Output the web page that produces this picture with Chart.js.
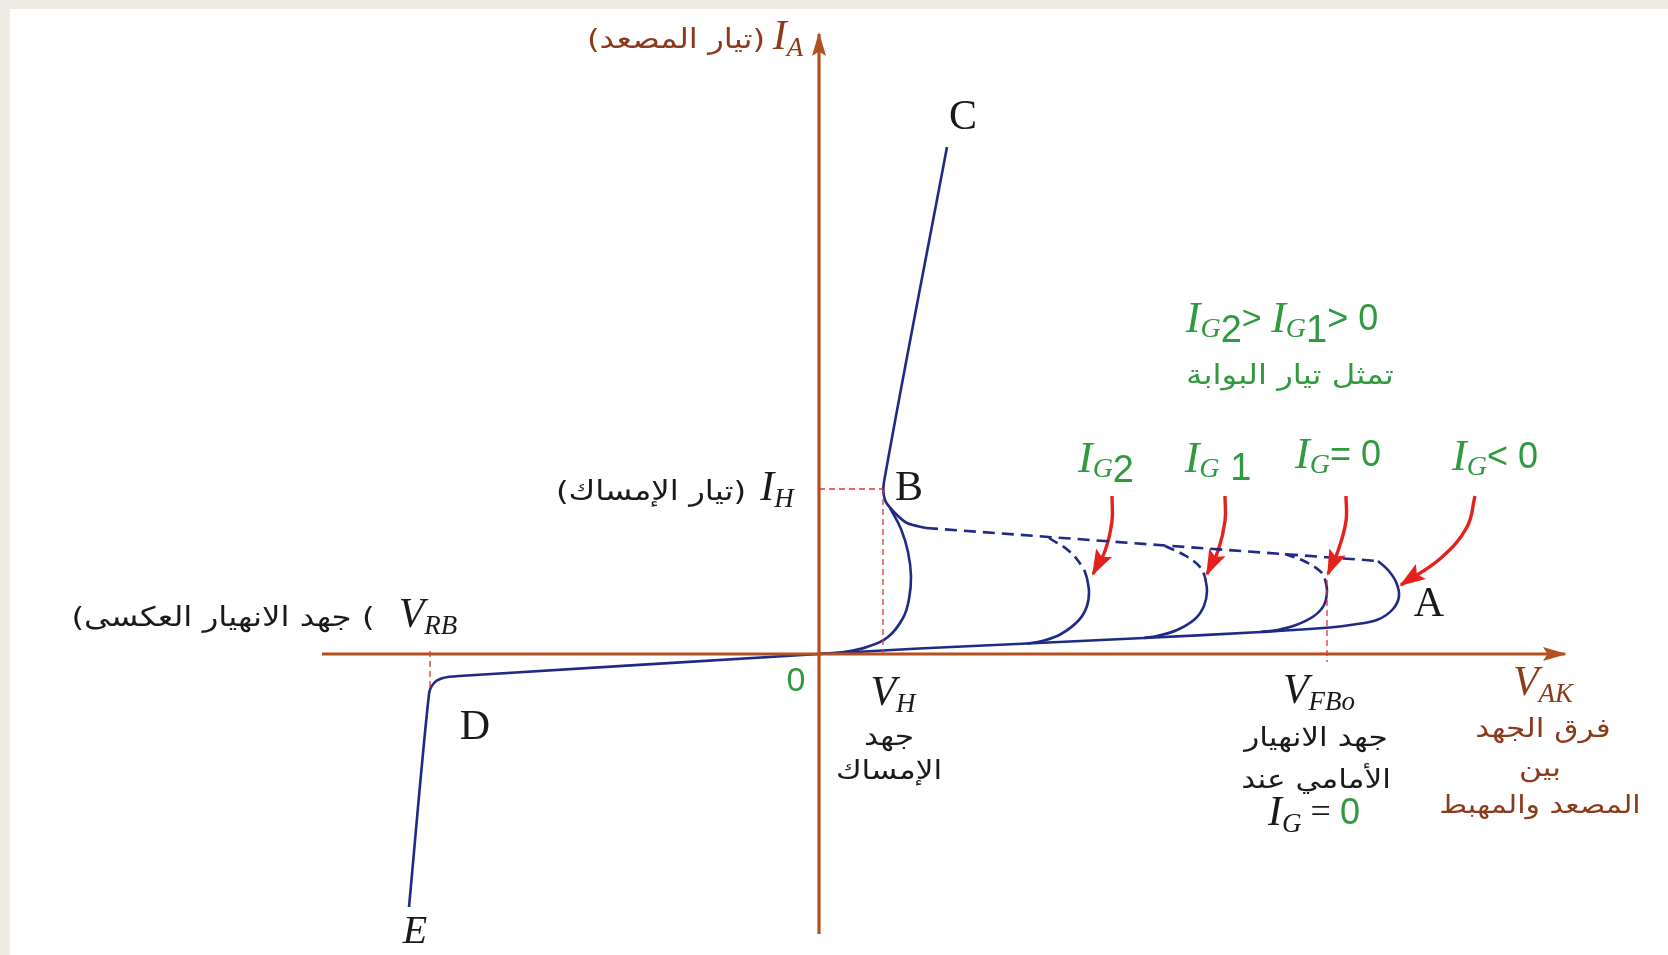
<!DOCTYPE html>
<html><head><meta charset="utf-8">
<script src="https://cdn.jsdelivr.net/npm/chart.js@4.4.0/dist/chart.umd.min.js"></script>
<style>html,body{margin:0;padding:0;background:#fff;overflow:hidden}canvas{display:block}</style>
</head><body><canvas id="c" width="1668" height="955"></canvas>
<script>
// ---- data (arbitrary schematic units: V_AK horizontally, I_A vertically) ----
const axisX = [[-49.7,0],[74.6,0]];
const axisY = [[0,-28],[0,62.0]];
const reverseCurve = [[-41.0,-25.3],[-39.0,-4.0],[-38.5,-2.9],[-37.6,-2.4],[-36.0,-2.2],[0,0]];
const onStateBranch = [[12.8,50.7],[6.5,17.2],[6.6,15.4],[7.5,14.2],[8.8,13.1],[10.7,12.6]];
const holdNose = [[7.1,14.6],[8.2,12.5],[8.9,10.2],[9.2,7.8],[9.0,5.5],[8.4,3.6],[6.9,1.7],[4.8,0.7],[2.5,0.2],[0,0]];
const forwardBlockA = [[0,0],[10,0.55],[20.8,1.05],[32.5,1.6],[44.2,2.2],[51.1,2.65],[53.5,2.95],[55.9,3.45],[57.4,4.5],[58.0,5.8],[57.7,7.2],[56.9,8.4],[55.9,9.3]];
const dashedMain = [[10.7,12.6],[55.9,9.3]];
const ig2Dash = [[23.0,11.6],[25.0,10.3],[26.4,8.6],[26.8,7.6]];
const ig2Solid = [[26.8,7.6],[27.0,6.2],[26.8,4.8],[26.0,3.4],[24.2,2.0],[22.3,1.3],[20.8,1.05]];
const ig1Dash = [[34.6,10.8],[36.7,9.8],[38.2,8.6],[38.6,7.7]];
const ig1Solid = [[38.6,7.7],[38.8,6.3],[38.5,4.8],[37.6,3.5],[35.8,2.4],[33.8,1.8],[32.5,1.6]];
const ig0Dash = [[46.6,10.0],[48.7,9.2],[50.2,8.2],[50.6,7.5]];
const ig0Solid = [[50.6,7.5],[50.8,6.3],[50.5,4.9],[49.5,3.8],[47.7,2.9],[45.8,2.4],[44.2,2.2]];
const ihLine = [[0,16.5],[6.4,16.5]];
const vhLine = [[6.4,16.5],[6.4,0]];
const vrbLine = [[-38.9,0.3],[-38.9,-3.6]];
const vfboLine = [[50.8,7.4],[50.8,-0.8]];
const arrowIG2 = [[29.3,15.8],[29.3,13.3],[28.6,10.3],[27.4,8.0]];
const arrowIG1 = [[40.6,15.8],[40.6,13.3],[39.9,10.3],[38.8,8.0]];
const arrowIG0 = [[52.7,15.8],[52.7,13.3],[51.9,10.3],[50.9,8.0]];
const arrowIGneg = [[65.6,15.8],[64.8,12.7],[62.2,9.6],[58.2,6.9]];

const BLUE = '#1f2a86', BROWN = '#b4501f', RED = '#e3221c', RDASH = '#d8383a';
const GREEN = '#2f9a3f', TXTBROWN = '#8c3a1c', BLACK = '#1a1a1a';

const pts = a => a.map(p => ({x:p[0], y:p[1]}));
function ds(arr, color, width, opts={}) {
  return Object.assign({data: pts(arr), borderColor: color, borderWidth: width, showLine: true,
    pointRadius: 0, fill: false, tension: 0.4}, opts);
}
const datasets = [
  ds(ihLine, RDASH, 1.3, {borderDash:[6,4], tension:0}),
  ds(vhLine, RDASH, 1.3, {borderDash:[6,4], tension:0}),
  ds(vrbLine, RDASH, 1.3, {borderDash:[6,4], tension:0}),
  ds(vfboLine, RDASH, 1.3, {borderDash:[6,4], tension:0}),
  ds(axisX, BROWN, 3.2, {tension:0, arrow:{len:22, half:7, color:BROWN}}),
  ds(axisY, BROWN, 3.2, {tension:0, arrow:{len:22, half:7, color:BROWN}}),
  ds(reverseCurve, BLUE, 2.6, {tension:0.3}),
  ds(onStateBranch, BLUE, 2.6, {tension:0.3}),
  ds(holdNose, BLUE, 2.6),
  ds(forwardBlockA, BLUE, 2.6),
  ds(dashedMain, BLUE, 2.6, {borderDash:[12,7], tension:0}),
  ds(ig2Dash, BLUE, 2.6, {borderDash:[10,6]}),
  ds(ig2Solid, BLUE, 2.6),
  ds(ig1Dash, BLUE, 2.6, {borderDash:[10,6]}),
  ds(ig1Solid, BLUE, 2.6),
  ds(ig0Dash, BLUE, 2.6, {borderDash:[10,6]}),
  ds(ig0Solid, BLUE, 2.6),
  ds(arrowIG2, RED, 3.4, {arrow:{len:24, half:9, color:RED}}),
  ds(arrowIG1, RED, 3.4, {arrow:{len:24, half:9, color:RED}}),
  ds(arrowIG0, RED, 3.4, {arrow:{len:24, half:9, color:RED}}),
  ds(arrowIGneg, RED, 3.4, {arrow:{len:24, half:9, color:RED}}),
];

// ---- fonts / text ----
const SI = s => `italic ${s}px "Liberation Serif","DejaVu Serif",serif`;
const SR = s => `${s}px "Liberation Serif","DejaVu Serif",serif`;
const SS = s => `${s}px "Liberation Sans","DejaVu Sans",sans-serif`;
const AR = s => `${s}px "DejaVu Sans",sans-serif`;
const R = (t, f, c, dy=0, rtl=false, sx=1) => ({t, f, c, dy, rtl, sx});
const A = (t, s, c) => R(t, AR(s), c, 0, true, 1.2);
const sub = (main, s, c, big=42, small=27) => [R(main, SI(big), c), R(s, SI(small), c, 11)];
const igRuns = (tail) => [R('I', SI(44), GREEN), R('G', SI(28), GREEN, 10)].concat(tail);
const LABELS = [
  {x:-14.3, y:61.3, runs:[A('(تيار المصعد)', 27, TXTBROWN)]},
  {x:-3.1, y:61.6, runs:sub('I', 'A', TXTBROWN)},
  {x:14.4, y:53.6, runs:[R('C', SR(42), BLACK)]},
  {x:46.3, y:33.4, runs:igRuns([R('2', SS(38), GREEN, 12), R('> ', SS(34), GREEN)]).concat([R('I', SI(44), GREEN), R('G', SI(28), GREEN, 10), R('1', SS(38), GREEN, 12), R('> 0', SS(36), GREEN)])},
  {x:47.1, y:27.7, runs:[A('تمثل تيار البوابة', 27, GREEN)]},
  {x:-16.8, y:16.1, runs:[A('(تيار الإمساك)', 27, BLACK)]},
  {x:-4.2, y:16.5, runs:sub('I', 'H', BLACK)},
  {x:9.0, y:16.5, runs:[R('B', SR(42), BLACK)]},
  {x:28.7, y:19.4, runs:igRuns([R('2', SS(38), GREEN, 12)])},
  {x:39.9, y:19.4, runs:igRuns([R(' 1', SS(38), GREEN, 10)])},
  {x:51.9, y:19.8, runs:igRuns([R('= 0', SS(36), GREEN, 0)])},
  {x:67.6, y:19.6, runs:igRuns([R('< 0', SS(36), GREEN, 0)])},
  {x:61.0, y:4.9, runs:[R('A', SR(42), BLACK)]},
  {x:-59.6, y:3.5, runs:[R('(', AR(27), BLACK, 0, false, 1.2), A('جهد الانهيار العكسى', 27, BLACK), R(' (', AR(27), BLACK, 0, false, 1.2)]},
  {x:-39.1, y:3.8, runs:sub('V', 'RB', BLACK)},
  {x:-2.3, y:-2.8, runs:[R('0', SS(34), GREEN)]},
  {x:7.4, y:-4.0, runs:sub('V', 'H', BLACK)},
  {x:7.0, y:-8.4, runs:[A('جهد', 26, BLACK)]},
  {x:7.0, y:-11.8, runs:[A('الإمساك', 26, BLACK)]},
  {x:-34.4, y:-7.4, runs:[R('D', SR(42), BLACK)]},
  {x:-40.4, y:-27.8, runs:[R('E', SI(40), BLACK)]},
  {x:50.0, y:-3.8, runs:sub('V', 'FBo', BLACK)},
  {x:49.7, y:-8.5, runs:[A('جهد الانهيار', 26, BLACK)]},
  {x:49.7, y:-12.7, runs:[A('الأمامي عند', 26, BLACK)]},
  {x:49.5, y:-16.0, runs:[R('I', SI(42), BLACK), R('G', SI(27), BLACK, 11), R(' = ', SR(36), BLACK), R('0', SS(36), GREEN)]},
  {x:72.4, y:-3.0, runs:sub('V', 'AK', TXTBROWN)},
  {x:72.4, y:-7.6, runs:[A('فرق الجهد', 26, TXTBROWN)]},
  {x:72.1, y:-11.5, runs:[A('بين', 26, TXTBROWN)]},
  {x:72.1, y:-15.2, runs:[A('المصعد والمهبط', 25, TXTBROWN)]},
];

function drawRuns(ctx, cx, cy, runs) {
  ctx.textBaseline = 'middle';
  ctx.textAlign = 'left';
  let w = 0;
  for (const r of runs) { ctx.font = r.f; ctx.direction = r.rtl ? 'rtl' : 'ltr'; w += ctx.measureText(r.t).width * r.sx; }
  let sx = cx - w / 2;
  for (const r of runs) {
    ctx.font = r.f; ctx.fillStyle = r.c; ctx.direction = r.rtl ? 'rtl' : 'ltr';
    const mw = ctx.measureText(r.t).width;
    ctx.save();
    ctx.translate(sx, cy + r.dy);
    ctx.scale(r.sx, 1);
    ctx.fillText(r.t, 0, 0);
    ctx.restore();
    sx += mw * r.sx;
  }
}

const framePlugin = {
  id: 'frame',
  beforeDraw(chart) {
    const {ctx, width, height} = chart;
    ctx.save();
    ctx.fillStyle = '#ffffff'; ctx.fillRect(0, 0, width, height);
    ctx.fillStyle = '#eeebe3'; ctx.fillRect(0, 0, width, 9); ctx.fillRect(0, 0, 10, height);
    ctx.restore();
  }
};
const arrowPlugin = {
  id: 'arrows',
  afterDatasetsDraw(chart) {
    const ctx = chart.ctx;
    chart.data.datasets.forEach((d, i) => {
      if (!d.arrow) return;
      const el = chart.getDatasetMeta(i).data;
      const p1 = el[el.length - 2], p2 = el[el.length - 1];
      const a = Math.atan2(p2.y - p1.y, p2.x - p1.x);
      const {len, half, color} = d.arrow;
      ctx.save();
      ctx.fillStyle = color;
      ctx.translate(p2.x, p2.y); ctx.rotate(a);
      ctx.beginPath(); ctx.moveTo(2, 0); ctx.lineTo(-len, -half); ctx.lineTo(-len * 0.8, 0); ctx.lineTo(-len, half); ctx.closePath(); ctx.fill();
      ctx.restore();
    });
  }
};
const labelPlugin = {
  id: 'labels',
  afterDatasetsDraw(chart) {
    const {ctx, scales} = chart;
    ctx.save();
    for (const L of LABELS) drawRuns(ctx, scales.x.getPixelForValue(L.x), scales.y.getPixelForValue(L.y), L.runs);
    ctx.restore();
  }
};

new Chart(document.getElementById('c'), {
  type: 'scatter',
  data: {datasets},
  options: {
    responsive: false, animation: false, devicePixelRatio: 1,
    layout: {padding: 0},
    plugins: {legend: {display: false}, tooltip: {enabled: false}},
    scales: {
      x: {type: 'linear', display: false, min: -81.9, max: 84.9},
      y: {type: 'linear', display: false, min: -30.1, max: 65.4}
    }
  },
  plugins: [framePlugin, arrowPlugin, labelPlugin]
});
</script></body></html>
